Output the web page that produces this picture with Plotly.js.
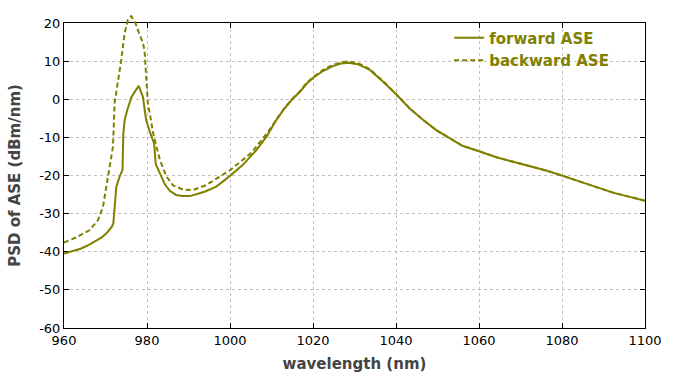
<!DOCTYPE html>
<html>
<head>
<meta charset="utf-8">
<script src="https://cdn.plot.ly/plotly-3.0.1.min.js"></script>
<style>html,body{margin:0;padding:0;background:#fff;}#chart{width:700px;height:375px;}</style>
</head>
<body>
<div id="chart"></div>
<script>
// wavelength (nm) and PSD of forward ASE (dBm/nm)
const fwdWavelength = [960, 962, 964, 966, 968, 969, 970.2, 971.5, 971.9, 972.1, 972.6, 973.4, 974.1, 974.3, 974.6, 975.2, 976.2, 977.2, 978.0, 979.0, 979.8, 980.8, 981.7, 982.1, 983.1, 984.3, 985.5, 987.0, 988.5, 990.3, 992.3, 994.0, 996.7, 1000, 1003.1, 1006.4, 1008.8, 1011.2, 1013, 1015, 1016.8, 1018.4, 1020, 1022.4, 1024.8, 1026.5, 1028.4, 1030.8, 1033.7, 1036.9, 1040.2, 1043.3, 1046.5, 1049.7, 1052.9, 1056, 1060.2, 1064.2, 1068.2, 1072.2, 1076.2, 1080.2, 1084.3, 1088.3, 1092.3, 1096.3, 1100];
const fwdPSD = [-40.5, -39.8, -39.2, -38.2, -37.0, -36.3, -35.2, -33.5, -32.5, -29.0, -23.0, -20.3, -18.5, -9.0, -5.5, -3.0, 0.5, 2.2, 3.5, 0.7, -5.5, -8.9, -11.5, -17.0, -19.4, -22.3, -24.0, -25.1, -25.4, -25.4, -24.8, -24.2, -22.9, -20.1, -17.2, -13.3, -9.8, -5.4, -2.6, 0.0, 1.9, 4.0, 5.6, 7.4, 8.7, 9.3, 9.6, 9.2, 7.7, 4.6, 1.1, -2.4, -5.4, -8.1, -10.2, -12.2, -13.7, -15.2, -16.4, -17.5, -18.7, -20.1, -21.6, -23.2, -24.5, -25.6, -26.6];

// wavelength (nm) and PSD of backward ASE (dBm/nm)
const bwdWavelength = [960, 963, 966.2, 968.2, 969.4, 970.2, 971.0, 971.8, 972.2, 973.0, 973.8, 974.6, 975.4, 976.2, 977.2, 978.2, 979.0, 979.4, 979.9, 980.2, 980.8, 981.5, 982.3, 983.1, 984.7, 986.3, 988.7, 991.1, 994.3, 997.5, 1000, 1002.3, 1005.2, 1007.6, 1009.2, 1011.2, 1013, 1015, 1016.8, 1018.4, 1020, 1022.4, 1024.8, 1026.5, 1028.4, 1030.8, 1033.7, 1036.9, 1040.2, 1043.3, 1046.5, 1049.7, 1052.9, 1056, 1060.2, 1064.2, 1068.2, 1072.2, 1076.2, 1080.2, 1084.3, 1088.3, 1092.3, 1096.3, 1100];
const bwdPSD = [-37.6, -36.2, -34.3, -31.7, -28.2, -22.9, -16.8, -12.4, -1.0, 4.2, 10.3, 17.3, 20.8, 21.8, 20.0, 17.0, 14.8, 12.9, 4.0, -1.0, -4.5, -9.0, -12.5, -15.9, -20.3, -22.6, -23.7, -23.8, -22.5, -20.3, -18.6, -16.6, -14.0, -10.7, -8.5, -5.3, -2.5, 0.1, 2.0, 4.2, 5.8, 7.7, 9.0, 9.6, 9.9, 9.5, 7.9, 4.7, 1.2, -2.4, -5.4, -8.1, -10.2, -12.2, -13.7, -15.2, -16.4, -17.5, -18.7, -20.1, -21.6, -23.2, -24.5, -25.6, -26.6];

const seriesNames = ['forward ASE', 'backward ASE'];
const xTitle = 'wavelength (nm)';
const yTitle = 'PSD of ASE (dBm/nm)';
const yTickVals = [-60, -50, -40, -30, -20, -10, 0, 10, 20];
const yTickText = ['-60', '-50', '-40', '-30', '-20', '-10', '0', '10', '20'];
const xRange = [960, 1100];
const yRange = [-60, 20];

const olive = '#808000';
const fontFam = 'DejaVu Sans, Verdana, sans-serif';

// geometry: the frame is 305 px tall; the curves' layer reaches 10 px higher
// so the backward peak can overshoot the frame top as in the reference.
const frameH = 305, extraH = 10;
const yDomTop = frameH / (frameH + extraH);
const y2Top = yRange[1] + (yRange[1] - yRange[0]) * extraH / frameH;

const traces = [
  // empty trace so the framed, gridded subplot is drawn
  {x: [], y: [], xaxis: 'x', yaxis: 'y', mode: 'lines', showlegend: false, hoverinfo: 'skip'},
  {x: fwdWavelength, y: fwdPSD, name: seriesNames[0], mode: 'lines', xaxis: 'x2', yaxis: 'y2',
   line: {color: olive, width: 2}},
  {x: bwdWavelength, y: bwdPSD, name: seriesNames[1], mode: 'lines', xaxis: 'x2', yaxis: 'y2',
   line: {color: olive, width: 2, dash: '5px,3px'}}
];

const axisCommon = {
  showgrid: true, gridcolor: '#c0c0c0', griddash: '3px,3px', gridwidth: 1,
  showline: true, linecolor: '#000', linewidth: 1, mirror: 'ticks',
  ticks: 'inside', ticklen: 5, tickcolor: '#000',
  zeroline: false, autorange: false,
  tickfont: {family: fontFam, size: 13, color: '#000'}
};

const layout = {
  width: 700, height: 375,
  margin: {l: 64, r: 55, t: 23 - extraH, b: 47},
  paper_bgcolor: '#fff', plot_bgcolor: 'rgba(0,0,0,0)',
  font: {family: fontFam},
  showlegend: true,
  legend: {x: 0.663, y: yDomTop + 0.005, xanchor: 'left', yanchor: 'top', bgcolor: 'rgba(0,0,0,0)',
    font: {family: fontFam, size: 15, color: olive, weight: 'bold'}, tracegroupgap: 0},
  xaxis: Object.assign({}, axisCommon, {
    range: xRange, tick0: 960, dtick: 20, anchor: 'y', domain: [0, 1],
    title: {text: xTitle, font: {family: fontFam, size: 15, color: '#444', weight: 'bold'}, standoff: 11}
  }),
  yaxis: Object.assign({}, axisCommon, {
    range: yRange, tickmode: 'array', tickvals: yTickVals, ticktext: yTickText,
    anchor: 'x', domain: [0, yDomTop],
    title: {text: yTitle, font: {family: fontFam, size: 15, color: '#444', weight: 'bold'}, standoff: 14}
  }),
  xaxis2: {range: xRange, autorange: false, domain: [0, 1], anchor: 'y2', visible: false, showgrid: false, zeroline: false},
  yaxis2: {range: [yRange[0], y2Top], autorange: false, domain: [0, 1], anchor: 'x2', visible: false, showgrid: false, zeroline: false}
};

Plotly.newPlot('chart', traces, layout, {staticPlot: true, displayModeBar: false});
</script>
</body>
</html>
